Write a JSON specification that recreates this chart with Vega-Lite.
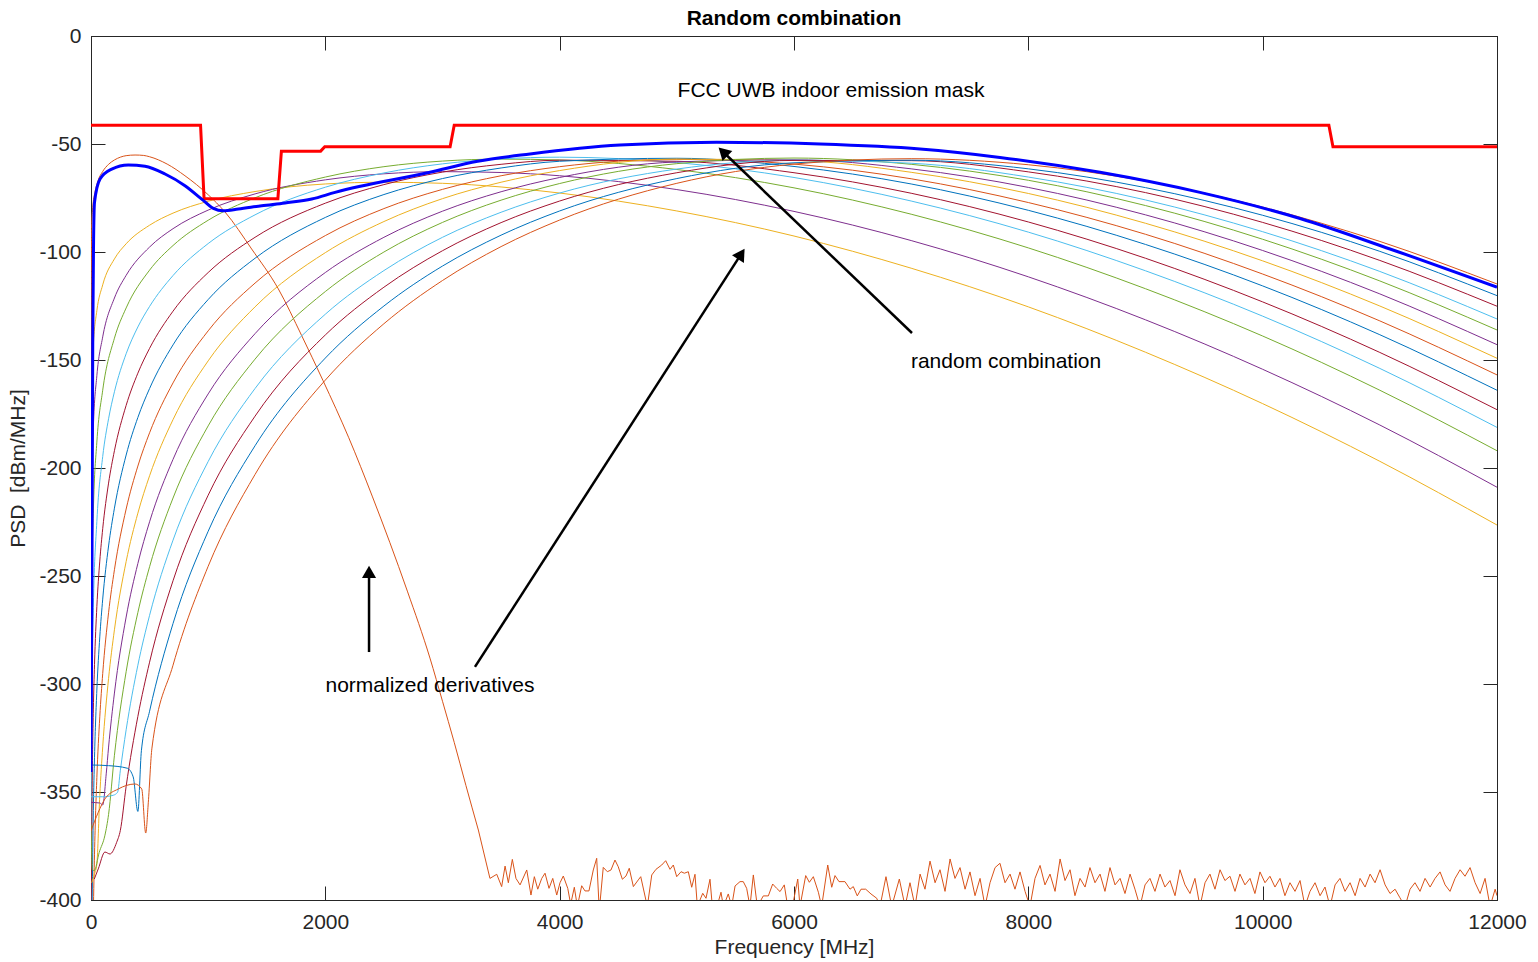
{
"$schema":"https://vega.github.io/schema/vega-lite/v6.json",
"width":1406,"height":864,
"autosize":{"type":"none"},
"padding":{"left":91,"top":36,"right":41,"bottom":62},
"background":"white",
"config":{
 "view":{"stroke":"#262626","strokeWidth":1},
 "font":"Liberation Sans",
 "axis":{"domainColor":"#262626","tickColor":"#262626","labelColor":"#262626","titleColor":"#262626","labelFont":"Liberation Sans","titleFont":"Liberation Sans","labelFontSize":21,"titleFontSize":21,"titleFontWeight":"normal","grid":false,"tickSize":-14,"domainWidth":1,"tickWidth":1,"labelFlush":false}
},
"title":{"text":"Random combination","fontSize":21,"fontWeight":"bold","color":"#000000","font":"Liberation Sans","offset":-4,"anchor":"middle"},
"datasets":{
"curves":[
{"s":"2","f":0,"v":-368},{"s":"2","f":5,"v":-89},{"s":"2","f":15,"v":-79.3},{"s":"2","f":34,"v":-72.4},{"s":"2","f":60,"v":-67},{"s":"2","f":100,"v":-62.7},{"s":"2","f":150,"v":-59.4},{"s":"2","f":200,"v":-57.4},{"s":"2","f":250,"v":-56.1},{"s":"2","f":300,"v":-55.4},{"s":"2","f":376,"v":-55.1},{"s":"2","f":450,"v":-55.3},{"s":"2","f":500,"v":-55.9},{"s":"2","f":650,"v":-59.3},{"s":"2","f":802,"v":-64.7},{"s":"2","f":1000,"v":-73.5},{"s":"2","f":1144,"v":-81.5},{"s":"2","f":1371,"v":-98.6},{"s":"2","f":1599,"v":-117.1},{"s":"2","f":1798,"v":-138.7},{"s":"2","f":1980,"v":-159.5},{"s":"2","f":2200,"v":-186},{"s":"2","f":2400,"v":-213},{"s":"2","f":2700,"v":-257},{"s":"2","f":2893,"v":-288},{"s":"2","f":3000,"v":-308},{"s":"2","f":3100,"v":-327},{"s":"2","f":3200,"v":-347},{"s":"2","f":3306,"v":-367.6},
{"s":"3","f":0,"v":-450},{"s":"3","f":1,"v":-195.2},{"s":"3","f":10,"v":-155.2},{"s":"3","f":20,"v":-143.1},{"s":"3","f":50,"v":-127.2},{"s":"3","f":100,"v":-115.2},{"s":"3","f":200,"v":-103.2},{"s":"3","f":300,"v":-96.2},{"s":"3","f":500,"v":-87.6},{"s":"3","f":700,"v":-82.0},{"s":"3","f":1000,"v":-76.5},{"s":"3","f":1400,"v":-72.0},{"s":"3","f":2000,"v":-68.5},{"s":"3","f":2500,"v":-67.7},{"s":"3","f":3000,"v":-68.2},{"s":"3","f":3500,"v":-69.9},{"s":"3","f":4000,"v":-72.7},{"s":"3","f":5000,"v":-81.0},{"s":"3","f":6000,"v":-92.6},{"s":"3","f":7000,"v":-107.5},{"s":"3","f":8000,"v":-125.4},{"s":"3","f":9000,"v":-146.4},{"s":"3","f":10000,"v":-170.2},{"s":"3","f":11000,"v":-196.9},{"s":"3","f":12000,"v":-226.4},
{"s":"4","f":0,"v":-450},{"s":"4","f":1,"v":-259.3},{"s":"4","f":10,"v":-199.3},{"s":"4","f":20,"v":-181.2},{"s":"4","f":50,"v":-157.3},{"s":"4","f":100,"v":-139.3},{"s":"4","f":200,"v":-121.3},{"s":"4","f":300,"v":-110.8},{"s":"4","f":500,"v":-97.7},{"s":"4","f":700,"v":-89.2},{"s":"4","f":1000,"v":-80.6},{"s":"4","f":1400,"v":-73.1},{"s":"4","f":2000,"v":-66.6},{"s":"4","f":2500,"v":-63.8},{"s":"4","f":3000,"v":-62.8},{"s":"4","f":3500,"v":-63.2},{"s":"4","f":4000,"v":-64.7},{"s":"4","f":5000,"v":-71.1},{"s":"4","f":6000,"v":-81.2},{"s":"4","f":7000,"v":-94.7},{"s":"4","f":8000,"v":-111.5},{"s":"4","f":9000,"v":-131.4},{"s":"4","f":10000,"v":-154.3},{"s":"4","f":11000,"v":-180.1},{"s":"4","f":12000,"v":-208.9},
{"s":"5","f":0,"v":-450},{"s":"5","f":1,"v":-323.9},{"s":"5","f":10,"v":-243.9},{"s":"5","f":20,"v":-219.9},{"s":"5","f":50,"v":-188.0},{"s":"5","f":100,"v":-164.0},{"s":"5","f":200,"v":-139.9},{"s":"5","f":300,"v":-125.9},{"s":"5","f":500,"v":-108.4},{"s":"5","f":700,"v":-97.0},{"s":"5","f":1000,"v":-85.3},{"s":"5","f":1400,"v":-74.9},{"s":"5","f":2000,"v":-65.3},{"s":"5","f":2500,"v":-60.5},{"s":"5","f":3000,"v":-57.9},{"s":"5","f":3500,"v":-57.0},{"s":"5","f":4000,"v":-57.4},{"s":"5","f":5000,"v":-61.8},{"s":"5","f":6000,"v":-70.3},{"s":"5","f":7000,"v":-82.5},{"s":"5","f":8000,"v":-98.1},{"s":"5","f":9000,"v":-117.0},{"s":"5","f":10000,"v":-138.9},{"s":"5","f":11000,"v":-164.0},{"s":"5","f":12000,"v":-192.0},
{"s":"6","f":0,"v":-450},{"s":"6","f":1,"v":-394.7},{"s":"6","f":10,"v":-294.7},{"s":"6","f":20,"v":-264.6},{"s":"6","f":50,"v":-224.8},{"s":"6","f":100,"v":-194.7},{"s":"6","f":150,"v":-177.2},{"s":"6","f":200,"v":-164.7},{"s":"6","f":300,"v":-147.1},{"s":"6","f":400,"v":-134.7},{"s":"6","f":500,"v":-125.2},{"s":"6","f":700,"v":-110.9},{"s":"6","f":1000,"v":-96.1},{"s":"6","f":1400,"v":-82.8},{"s":"6","f":2000,"v":-70.0},{"s":"6","f":2500,"v":-63.4},{"s":"6","f":3000,"v":-59.2},{"s":"6","f":3500,"v":-56.9},{"s":"6","f":4000,"v":-56.1},{"s":"6","f":5000,"v":-58.6},{"s":"6","f":6000,"v":-65.5},{"s":"6","f":7000,"v":-76.4},{"s":"6","f":8000,"v":-90.8},{"s":"6","f":9000,"v":-108.7},{"s":"6","f":10000,"v":-129.7},{"s":"6","f":11000,"v":-153.9},{"s":"6","f":12000,"v":-181.2},
{"s":"7","f":0,"v":-450},{"s":"7","f":5,"v":-384.2},{"s":"7","f":10,"v":-348.1},{"s":"7","f":20,"v":-312.0},{"s":"7","f":30,"v":-290.9},{"s":"7","f":50,"v":-264.2},{"s":"7","f":75,"v":-243.1},{"s":"7","f":100,"v":-228.1},{"s":"7","f":150,"v":-207.0},{"s":"7","f":200,"v":-192.0},{"s":"7","f":300,"v":-171.0},{"s":"7","f":400,"v":-156.1},{"s":"7","f":500,"v":-144.6},{"s":"7","f":700,"v":-127.4},{"s":"7","f":1000,"v":-109.5},{"s":"7","f":1400,"v":-93.2},{"s":"7","f":2000,"v":-77.4},{"s":"7","f":2500,"v":-68.8},{"s":"7","f":3000,"v":-63.0},{"s":"7","f":3500,"v":-59.4},{"s":"7","f":4000,"v":-57.5},{"s":"7","f":5000,"v":-58.0},{"s":"7","f":6000,"v":-63.3},{"s":"7","f":7000,"v":-72.8},{"s":"7","f":8000,"v":-86.1},{"s":"7","f":9000,"v":-102.9},{"s":"7","f":10000,"v":-123.1},{"s":"7","f":11000,"v":-146.5},{"s":"7","f":12000,"v":-173.0},
{"s":"8","f":0,"v":-450},{"s":"8","f":10,"v":-400.7},{"s":"8","f":20,"v":-358.6},{"s":"8","f":30,"v":-333.9},{"s":"8","f":50,"v":-302.8},{"s":"8","f":75,"v":-278.2},{"s":"8","f":100,"v":-260.7},{"s":"8","f":150,"v":-236.1},{"s":"8","f":200,"v":-218.6},{"s":"8","f":300,"v":-194.0},{"s":"8","f":400,"v":-176.6},{"s":"8","f":500,"v":-163.2},{"s":"8","f":700,"v":-143.0},{"s":"8","f":1000,"v":-122.0},{"s":"8","f":1400,"v":-102.9},{"s":"8","f":2000,"v":-84.0},{"s":"8","f":2500,"v":-73.4},{"s":"8","f":3000,"v":-66.0},{"s":"8","f":3500,"v":-61.1},{"s":"8","f":4000,"v":-58.0},{"s":"8","f":5000,"v":-56.6},{"s":"8","f":6000,"v":-60.4},{"s":"8","f":7000,"v":-68.5},{"s":"8","f":8000,"v":-80.7},{"s":"8","f":9000,"v":-96.5},{"s":"8","f":10000,"v":-115.7},{"s":"8","f":11000,"v":-138.3},{"s":"8","f":12000,"v":-164.0},
{"s":"9","f":0,"v":-460},{"s":"9","f":10,"v":-455.2},{"s":"9","f":20,"v":-407.0},{"s":"9","f":30,"v":-378.8},{"s":"9","f":50,"v":-343.3},{"s":"9","f":75,"v":-315.2},{"s":"9","f":100,"v":-295.2},{"s":"9","f":150,"v":-267.0},{"s":"9","f":200,"v":-247.1},{"s":"9","f":300,"v":-219.0},{"s":"9","f":400,"v":-199.1},{"s":"9","f":500,"v":-183.7},{"s":"9","f":700,"v":-160.6},{"s":"9","f":1000,"v":-136.5},{"s":"9","f":1400,"v":-114.4},{"s":"9","f":2000,"v":-92.4},{"s":"9","f":2500,"v":-79.9},{"s":"9","f":3000,"v":-71.0},{"s":"9","f":3500,"v":-64.7},{"s":"9","f":4000,"v":-60.5},{"s":"9","f":5000,"v":-57.1},{"s":"9","f":6000,"v":-59.3},{"s":"9","f":7000,"v":-66.1},{"s":"9","f":8000,"v":-77.1},{"s":"9","f":9000,"v":-91.8},{"s":"9","f":10000,"v":-110.2},{"s":"9","f":11000,"v":-131.9},{"s":"9","f":12000,"v":-156.9},
{"s":"10","f":6,"v":-392},{"s":"10","f":30,"v":-388},{"s":"10","f":50,"v":-383.3},{"s":"10","f":75,"v":-351.6},{"s":"10","f":100,"v":-329.1},{"s":"10","f":150,"v":-297.4},{"s":"10","f":200,"v":-274.9},{"s":"10","f":300,"v":-243.3},{"s":"10","f":400,"v":-220.9},{"s":"10","f":500,"v":-203.6},{"s":"10","f":700,"v":-177.6},{"s":"10","f":1000,"v":-150.4},{"s":"10","f":1400,"v":-125.4},{"s":"10","f":2000,"v":-100.3},{"s":"10","f":2500,"v":-85.9},{"s":"10","f":3000,"v":-75.3},{"s":"10","f":3500,"v":-67.7},{"s":"10","f":4000,"v":-62.3},{"s":"10","f":5000,"v":-57.0},{"s":"10","f":6000,"v":-57.6},{"s":"10","f":7000,"v":-63.1},{"s":"10","f":8000,"v":-72.9},{"s":"10","f":9000,"v":-86.7},{"s":"10","f":10000,"v":-104.1},{"s":"10","f":11000,"v":-125.0},{"s":"10","f":12000,"v":-149.2},
{"s":"11","f":0,"v":-354.8},{"s":"11","f":75,"v":-355.1},{"s":"11","f":100,"v":-356},{"s":"11","f":130,"v":-341.6},{"s":"11","f":150,"v":-329.2},{"s":"11","f":200,"v":-304.2},{"s":"11","f":300,"v":-269.0},{"s":"11","f":400,"v":-244.2},{"s":"11","f":500,"v":-224.9},{"s":"11","f":700,"v":-196.0},{"s":"11","f":1000,"v":-165.7},{"s":"11","f":1400,"v":-137.8},{"s":"11","f":2000,"v":-109.5},{"s":"11","f":2500,"v":-93.2},{"s":"11","f":3000,"v":-81.1},{"s":"11","f":3500,"v":-72.1},{"s":"11","f":4000,"v":-65.5},{"s":"11","f":5000,"v":-58.3},{"s":"11","f":6000,"v":-57.3},{"s":"11","f":7000,"v":-61.5},{"s":"11","f":8000,"v":-70.1},{"s":"11","f":9000,"v":-82.8},{"s":"11","f":10000,"v":-99.3},{"s":"11","f":11000,"v":-119.4},{"s":"11","f":12000,"v":-142.9},
{"s":"12","f":0,"v":-365},{"s":"12","f":12,"v":-386},{"s":"12","f":28,"v":-386.4},{"s":"12","f":70,"v":-378},{"s":"12","f":119,"v":-370},{"s":"12","f":150,"v":-360.4},{"s":"12","f":200,"v":-333.0},{"s":"12","f":300,"v":-294.3},{"s":"12","f":400,"v":-266.9},{"s":"12","f":500,"v":-245.7},{"s":"12","f":700,"v":-213.9},{"s":"12","f":1000,"v":-180.5},{"s":"12","f":1400,"v":-149.6},{"s":"12","f":2000,"v":-118.3},{"s":"12","f":2500,"v":-100.0},{"s":"12","f":3000,"v":-86.3},{"s":"12","f":3500,"v":-76.0},{"s":"12","f":4000,"v":-68.3},{"s":"12","f":5000,"v":-59.1},{"s":"12","f":6000,"v":-56.5},{"s":"12","f":7000,"v":-59.4},{"s":"12","f":8000,"v":-66.8},{"s":"12","f":9000,"v":-78.5},{"s":"12","f":10000,"v":-94.1},{"s":"12","f":11000,"v":-113.4},{"s":"12","f":12000,"v":-136.1},
{"s":"13","f":0,"v":-352.2},{"s":"13","f":100,"v":-352.2},{"s":"13","f":190,"v":-351.5},{"s":"13","f":227,"v":-350.1},{"s":"13","f":250,"v":-340.2},{"s":"13","f":300,"v":-321.2},{"s":"13","f":400,"v":-291.3},{"s":"13","f":500,"v":-268.2},{"s":"13","f":700,"v":-233.4},{"s":"13","f":1000,"v":-197.0},{"s":"13","f":1400,"v":-163.2},{"s":"13","f":2000,"v":-128.8},{"s":"13","f":2500,"v":-108.6},{"s":"13","f":3000,"v":-93.2},{"s":"13","f":3500,"v":-81.6},{"s":"13","f":4000,"v":-72.7},{"s":"13","f":5000,"v":-61.6},{"s":"13","f":6000,"v":-57.5},{"s":"13","f":7000,"v":-58.9},{"s":"13","f":8000,"v":-65.3},{"s":"13","f":9000,"v":-75.9},{"s":"13","f":10000,"v":-90.6},{"s":"13","f":11000,"v":-109.0},{"s":"13","f":12000,"v":-131.0},
{"s":"14","f":28,"v":-390.3},{"s":"14","f":62,"v":-385.6},{"s":"14","f":119,"v":-377.8},{"s":"14","f":162,"v":-378.7},{"s":"14","f":219,"v":-373.3},{"s":"14","f":250,"v":-367.9},{"s":"14","f":300,"v":-347.4},{"s":"14","f":400,"v":-315.0},{"s":"14","f":500,"v":-289.9},{"s":"14","f":700,"v":-252.2},{"s":"14","f":1000,"v":-212.6},{"s":"14","f":1400,"v":-176.0},{"s":"14","f":2000,"v":-138.4},{"s":"14","f":2500,"v":-116.3},{"s":"14","f":3000,"v":-99.4},{"s":"14","f":3500,"v":-86.4},{"s":"14","f":4000,"v":-76.4},{"s":"14","f":5000,"v":-63.3},{"s":"14","f":6000,"v":-57.6},{"s":"14","f":7000,"v":-57.7},{"s":"14","f":8000,"v":-62.9},{"s":"14","f":9000,"v":-72.5},{"s":"14","f":10000,"v":-86.3},{"s":"14","f":11000,"v":-103.9},{"s":"14","f":12000,"v":-125.1},
{"s":"15","f":0,"v":-337.5},{"s":"15","f":150,"v":-337.8},{"s":"15","f":310,"v":-339},{"s":"15","f":360,"v":-343},{"s":"15","f":400,"v":-359},{"s":"15","f":430,"v":-330.9},{"s":"15","f":500,"v":-312.6},{"s":"15","f":700,"v":-272.0},{"s":"15","f":1000,"v":-229.3},{"s":"15","f":1400,"v":-189.7},{"s":"15","f":2000,"v":-149.1},{"s":"15","f":2500,"v":-125.0},{"s":"15","f":3000,"v":-106.5},{"s":"15","f":3500,"v":-92.2},{"s":"15","f":4000,"v":-81.0},{"s":"15","f":5000,"v":-66.0},{"s":"15","f":6000,"v":-58.7},{"s":"15","f":7000,"v":-57.5},{"s":"15","f":8000,"v":-61.5},{"s":"15","f":9000,"v":-70.2},{"s":"15","f":10000,"v":-83.0},{"s":"15","f":11000,"v":-99.7},{"s":"15","f":12000,"v":-120.2},
{"s":"16","f":0,"v":-368},{"s":"16","f":62,"v":-359.4},{"s":"16","f":119,"v":-353.2},{"s":"16","f":233,"v":-348.6},{"s":"16","f":376,"v":-346.3},{"s":"16","f":433,"v":-348.6},{"s":"16","f":467,"v":-369},{"s":"16","f":489,"v":-355},{"s":"16","f":520,"v":-329.7},{"s":"16","f":700,"v":-291.3},{"s":"16","f":1000,"v":-245.5},{"s":"16","f":1400,"v":-203.0},{"s":"16","f":2000,"v":-159.3},{"s":"16","f":2500,"v":-133.2},{"s":"16","f":3000,"v":-113.2},{"s":"16","f":3500,"v":-97.5},{"s":"16","f":4000,"v":-85.2},{"s":"16","f":5000,"v":-68.2},{"s":"16","f":6000,"v":-59.3},{"s":"16","f":7000,"v":-56.8},{"s":"16","f":8000,"v":-59.6},{"s":"16","f":9000,"v":-67.2},{"s":"16","f":10000,"v":-79.2},{"s":"16","f":11000,"v":-95.1},{"s":"16","f":12000,"v":-114.8}
],
"noise":[
{"f":3306,"v":-367.6},{"f":3405,"v":-390},{"f":3463,"v":-388.1},{"f":3505,"v":-393.8},{"f":3534,"v":-384.3},{"f":3562,"v":-392},{"f":3596,"v":-381.2},{"f":3627,"v":-390},{"f":3662,"v":-393},{"f":3719,"v":-386.1},{"f":3755,"v":-397.7},{"f":3784,"v":-389.2},{"f":3813,"v":-395},{"f":3847,"v":-390},{"f":3875,"v":-387.6},{"f":3909,"v":-394.6},{"f":3941,"v":-390},{"f":3975,"v":-397.7},{"f":4003,"v":-392},{"f":4031,"v":-388.9},{"f":4069,"v":-394.6},{"f":4094,"v":-402},{"f":4125,"v":-394.1},{"f":4151,"v":-403},{"f":4188,"v":-393.4},{"f":4216,"v":-395.8},{"f":4250,"v":-395.8},{"f":4287,"v":-386.1},{"f":4316,"v":-380.7},{"f":4338,"v":-405},{"f":4372,"v":-384.9},{"f":4407,"v":-386.9},{"f":4438,"v":-386.1},{"f":4472,"v":-381.5},{"f":4500,"v":-384.6},{"f":4535,"v":-390.4},{"f":4566,"v":-388.9},{"f":4594,"v":-385.3},{"f":4629,"v":-393.8},{"f":4671,"v":-390.7},{"f":4692,"v":-389.2},{"f":4748,"v":-403},{"f":4786,"v":-388.4},{"f":4822,"v":-385.8},{"f":4871,"v":-383.8},{"f":4905,"v":-381.8},{"f":4942,"v":-385.8},{"f":4970,"v":-383.8},{"f":4999,"v":-389.2},{"f":5036,"v":-386.9},{"f":5064,"v":-387.6},{"f":5098,"v":-386.9},{"f":5127,"v":-394.1},{"f":5155,"v":-388.1},{"f":5175,"v":-403},{"f":5221,"v":-396.9},{"f":5249,"v":-399.2},{"f":5283,"v":-390.4},{"f":5303,"v":-403},{"f":5343,"v":-403},{"f":5377,"v":-396.4},{"f":5397,"v":-403},{"f":5439,"v":-397.2},{"f":5468,"v":-403},{"f":5497,"v":-393.5},{"f":5539,"v":-391.5},{"f":5567,"v":-391.5},{"f":5596,"v":-394.6},{"f":5624,"v":-403},{"f":5653,"v":-388.4},{"f":5687,"v":-403},{"f":5738,"v":-398.1},{"f":5781,"v":-398.1},{"f":5818,"v":-392.6},{"f":5852,"v":-394.6},{"f":5881,"v":-396.1},{"f":5917,"v":-393},{"f":5946,"v":-403},{"f":5983,"v":-404},{"f":6032,"v":-390.3},{"f":6051,"v":-403},{"f":6100,"v":-388.7},{"f":6131,"v":-391.8},{"f":6165,"v":-389.2},{"f":6208,"v":-396.4},{"f":6236,"v":-403},{"f":6288,"v":-383.8},{"f":6322,"v":-394.1},{"f":6350,"v":-388.7},{"f":6384,"v":-391.5},{"f":6435,"v":-391.5},{"f":6478,"v":-395},{"f":6506,"v":-393.8},{"f":6540,"v":-398.1},{"f":6572,"v":-395},{"f":6612,"v":-395},{"f":6657,"v":-397.2},{"f":6706,"v":-399.2},{"f":6734,"v":-403},{"f":6785,"v":-389.2},{"f":6834,"v":-403},{"f":6899,"v":-390.3},
{"f":6948,"v":-403},{"f":6990,"v":-392},{"f":7033,"v":-403},{"f":7076,"v":-388},{"f":7118,"v":-395},{"f":7161,"v":-382},{"f":7204,"v":-392},{"f":7246,"v":-386},{"f":7289,"v":-396},{"f":7332,"v":-381},{"f":7374,"v":-390},{"f":7417,"v":-385},{"f":7460,"v":-395},{"f":7502,"v":-387},{"f":7545,"v":-398},{"f":7588,"v":-390},{"f":7630,"v":-403},{"f":7673,"v":-392},{"f":7716,"v":-385},{"f":7758,"v":-383},{"f":7801,"v":-392},{"f":7844,"v":-388},{"f":7886,"v":-395},{"f":7929,"v":-387},{"f":7972,"v":-396},{"f":8014,"v":-403},{"f":8057,"v":-390},{"f":8100,"v":-384},{"f":8142,"v":-393},{"f":8185,"v":-388},{"f":8228,"v":-396},{"f":8271,"v":-381},{"f":8313,"v":-391},{"f":8356,"v":-386},{"f":8398,"v":-398},{"f":8441,"v":-390},{"f":8484,"v":-394},{"f":8526,"v":-385},{"f":8569,"v":-392},{"f":8612,"v":-388},{"f":8654,"v":-396},{"f":8697,"v":-385},{"f":8740,"v":-393},{"f":8783,"v":-390},{"f":8825,"v":-397},{"f":8868,"v":-388},{"f":8910,"v":-395},{"f":8953,"v":-403},{"f":8996,"v":-393},{"f":9038,"v":-390},{"f":9081,"v":-396},{"f":9124,"v":-388},{"f":9166,"v":-394},{"f":9209,"v":-391},{"f":9252,"v":-398},{"f":9294,"v":-386},{"f":9337,"v":-393},{"f":9380,"v":-397},{"f":9422,"v":-390},{"f":9465,"v":-403},{"f":9508,"v":-392},{"f":9550,"v":-388},{"f":9593,"v":-395},{"f":9636,"v":-386},{"f":9678,"v":-391},{"f":9721,"v":-389},{"f":9764,"v":-396},{"f":9806,"v":-388},{"f":9849,"v":-393},{"f":9892,"v":-390},{"f":9934,"v":-397},{"f":9977,"v":-387},{"f":10020,"v":-392},{"f":10062,"v":-389},{"f":10105,"v":-394},{"f":10148,"v":-390},{"f":10190,"v":-398},{"f":10233,"v":-392},{"f":10276,"v":-396},{"f":10319,"v":-391},{"f":10361,"v":-403},{"f":10404,"v":-396},{"f":10447,"v":-392},{"f":10490,"v":-398},{"f":10532,"v":-394},{"f":10575,"v":-403},{"f":10618,"v":-393},{"f":10660,"v":-390},{"f":10703,"v":-396},{"f":10746,"v":-392},{"f":10789,"v":-398},{"f":10831,"v":-390},{"f":10874,"v":-394},{"f":10917,"v":-388},{"f":10959,"v":-392},{"f":11002,"v":-386},{"f":11045,"v":-393},{"f":11087,"v":-397},{"f":11130,"v":-395},{"f":11172,"v":-399},{"f":11215,"v":-403},{"f":11258,"v":-395},{"f":11300,"v":-392},{"f":11343,"v":-396},{"f":11386,"v":-390},{"f":11429,"v":-394},{"f":11471,"v":-390},{"f":11514,"v":-387},{"f":11557,"v":-393},{"f":11599,"v":-396},{"f":11642,"v":-390},{"f":11685,"v":-386},{"f":11727,"v":-389},{"f":11770,"v":-385},{"f":11813,"v":-392},{"f":11856,"v":-397},{"f":11898,"v":-390},{"f":11941,"v":-403},{"f":11984,"v":-395},{"f":12000,"v":-398}
],
"combo":[
{"f":0,"v":-340.7},{"f":8,"v":-250},{"f":15,"v":-140},{"f":22,"v":-95},{"f":30,"v":-77},{"f":77,"v":-66.2},{"f":177,"v":-61.6},{"f":318,"v":-59.7},{"f":461,"v":-60.3},{"f":632,"v":-63.9},{"f":802,"v":-69.3},{"f":945,"v":-75.5},{"f":1044,"v":-79.8},{"f":1129,"v":-80.9},{"f":1257,"v":-80.1},{"f":1457,"v":-78.6},{"f":1656,"v":-77.3},{"f":1884,"v":-75.5},{"f":2083,"v":-72.4},{"f":2893,"v":-63.1},{"f":3300,"v":-58},{"f":3747,"v":-54.6},{"f":4515,"v":-50.5},{"f":5340,"v":-49.2},{"f":6222,"v":-50},{"f":7076,"v":-52.3},{"f":7758,"v":-56.2},{"f":8612,"v":-63.1},{"f":9465,"v":-72.4},{"f":10319,"v":-84.5},{"f":11087,"v":-98.6},{"f":12000,"v":-116.3}
],
"mask":[
{"f":0,"v":-41.3},{"f":935,"v":-41.3},{"f":965,"v":-75.3},{"f":1595,"v":-75.3},{"f":1625,"v":-53.3},{"f":1960,"v":-53.3},{"f":1995,"v":-51.3},{"f":3065,"v":-51.3},{"f":3100,"v":-41.3},{"f":10565,"v":-41.3},{"f":10600,"v":-51.3},{"f":12000,"v":-51.3}
],
"labels":[
{"t":"FCC UWB indoor emission mask","f":6316,"v":-25.5},
{"t":"random combination","f":7810,"v":-150.9},
{"t":"normalized derivatives","f":2893,"v":-300.9}
],
"arrows":[
{"id":"a1","f":7007,"v":-137.5,"f2":5394,"v2":-53.6},
{"id":"a2","f":3277,"v":-292.1,"f2":5550,"v2":-100.9},
{"id":"a3","f":2373,"v":-285.2,"f2":2373,"v2":-248.1}
]
},
"resolve":{"axis":{"x":"independent","y":"independent"}},
"layer":[
{"data":{"name":"curves"},
 "mark":{"type":"line","interpolate":"monotone","strokeWidth":1,"clip":true},
 "encoding":{
  "x":{"field":"f","type":"quantitative","scale":{"domain":[0,12000],"nice":false,"zero":false},
       "axis":{"orient":"bottom","values":[0,2000,4000,6000,8000,10000,12000],"labelExpr":"'' + datum.value","labelPadding":25,"title":"Frequency [MHz]","titlePadding":4}},
  "y":{"field":"v","type":"quantitative","scale":{"domain":[-400,0],"nice":false,"zero":false},
       "axis":{"orient":"left","values":[-400,-350,-300,-250,-200,-150,-100,-50,0],"labelExpr":"'' + datum.value","labelPadding":24,"title":"PSD\u00a0 [dBm/MHz]","titlePadding":10}},
  "color":{"field":"s","type":"nominal","legend":null,
    "scale":{"domain":["2","3","4","5","6","7","8","9","10","11","12","13","14","15","16"],
             "range":["#D95319","#EDB120","#7E2F8E","#77AC30","#4DBEEE","#A2142F","#0072BD","#D95319","#EDB120","#7E2F8E","#77AC30","#4DBEEE","#A2142F","#0072BD","#D95319"]}}
 }},
{"data":{"name":"noise"},
 "mark":{"type":"line","color":"#D95319","strokeWidth":1,"clip":true},
 "encoding":{
  "x":{"field":"f","type":"quantitative","axis":{"orient":"top","values":[0,2000,4000,6000,8000,10000,12000],"labels":false,"title":null}},
  "y":{"field":"v","type":"quantitative","axis":{"orient":"right","values":[-400,-350,-300,-250,-200,-150,-100,-50,0],"labels":false,"title":null}}
 }},
{"data":{"name":"mask"},
 "mark":{"type":"line","color":"#FF0000","strokeWidth":3,"clip":true},
 "encoding":{"x":{"field":"f","type":"quantitative","axis":null},"y":{"field":"v","type":"quantitative","axis":null}}},
{"data":{"name":"combo"},
 "mark":{"type":"line","color":"#0000FF","strokeWidth":3,"interpolate":"monotone","clip":true},
 "encoding":{"x":{"field":"f","type":"quantitative","axis":null},"y":{"field":"v","type":"quantitative","axis":null}}},
{"data":{"name":"labels"},
 "mark":{"type":"text","fontSize":21,"font":"Liberation Sans","color":"#000000","align":"center","baseline":"middle"},
 "encoding":{"x":{"field":"f","type":"quantitative","axis":null},"y":{"field":"v","type":"quantitative","axis":null},"text":{"field":"t"}}},
{"data":{"name":"arrows"},
 "mark":{"type":"rule","color":"#000000","strokeWidth":2.5},
 "encoding":{"x":{"field":"f","type":"quantitative","axis":null},"y":{"field":"v","type":"quantitative","axis":null},"x2":{"field":"f2"},"y2":{"field":"v2"}}},
{"data":{"name":"arrows"},"transform":[{"filter":"datum.id === 'a1'"}],
 "mark":{"type":"point","shape":"triangle-up","filled":true,"color":"#000000","opacity":1,"size":200,"angle":313.8},
 "encoding":{"x":{"field":"f2","type":"quantitative","axis":null},"y":{"field":"v2","type":"quantitative","axis":null}}},
{"data":{"name":"arrows"},"transform":[{"filter":"datum.id === 'a2'"}],
 "mark":{"type":"point","shape":"triangle-up","filled":true,"color":"#000000","opacity":1,"size":200,"angle":32.8},
 "encoding":{"x":{"field":"f2","type":"quantitative","axis":null},"y":{"field":"v2","type":"quantitative","axis":null}}},
{"data":{"name":"arrows"},"transform":[{"filter":"datum.id === 'a3'"}],
 "mark":{"type":"point","shape":"triangle-up","filled":true,"color":"#000000","opacity":1,"size":200,"angle":0},
 "encoding":{"x":{"field":"f2","type":"quantitative","axis":null},"y":{"field":"v2","type":"quantitative","axis":null}}}
]
}
